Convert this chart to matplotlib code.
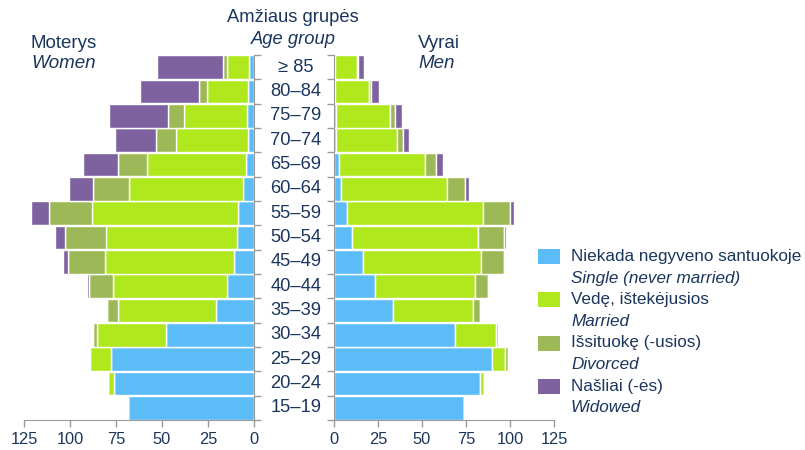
import matplotlib
matplotlib.use("Agg")
import matplotlib.pyplot as plt
from matplotlib.patches import Rectangle
import numpy as np

plt.rcParams['font.family'] = ['Liberation Sans', 'DejaVu Sans']

age_groups = ["15–19", "20–24", "25–29", "30–34", "35–39", "40–44", "45–49",
              "50–54", "55–59", "60–64", "65–69", "70–74", "75–79", "80–84", "≥ 85"]

women_single   = [68.3, 76.1, 77.7, 48.0, 20.5, 14.7, 11.1, 9.0, 8.6, 5.9, 4.5, 3.2, 3.6, 3.2, 2.7]
women_married  = [0.0, 3.2, 11.3, 37.3, 53.2, 61.9, 69.8, 71.6, 79.4, 62.3, 53.4, 39.4, 34.7, 22.2, 12.2]
women_divorced = [0.0, 0.0, 0.6, 2.3, 6.3, 13.0, 20.4, 21.9, 23.5, 19.4, 16.2, 10.8, 8.6, 4.4, 1.8]
women_widowed  = [0.0, 0.0, 0.0, 0.0, 0.0, 1.4, 2.3, 5.4, 9.7, 13.1, 18.7, 22.3, 31.9, 32.4, 36.0]

men_single   = [73.8, 83.1, 89.9, 68.9, 33.6, 23.2, 16.5, 10.5, 7.4, 4.2, 2.7, 1.1, 1.1, 0.5, 0.3]
men_married  = [0.0, 1.9, 7.4, 23.1, 45.2, 56.9, 66.8, 71.3, 77.4, 59.9, 48.9, 34.6, 30.6, 19.4, 12.8]
men_divorced = [0.0, 0.0, 1.4, 1.3, 3.9, 7.4, 13.3, 14.6, 15.4, 10.1, 6.5, 3.4, 2.7, 1.4, 0.5]
men_widowed  = [0.0, 0.0, 0.0, 0.0, 0.0, 0.0, 0.4, 1.5, 2.3, 2.6, 3.6, 3.6, 4.3, 4.1, 3.4]

x_ticks = [0, 25, 50, 75, 100, 125]

legend_lt = ["Niekada negyveno santuokoje", "Vedę, ištekėjusios", "Išsituokę (-usios)", "Našliai (-ės)"]
legend_en = ["Single (never married)", "Married", "Divorced", "Widowed"]

colors = ["#5BBCF8", "#B0E81E", "#9DB957", "#7E62A0"]
navy = "#1B365D"
spine_c = "#9A9A9A"

W, H = 805, 450
fig = plt.figure(figsize=(W / 100, H / 100), dpi=100)

def fx(px):
    return px / W

def fy(py):
    return 1 - py / H

top, bot = 55, 420
axL = fig.add_axes([fx(24), fy(bot), fx(254) - fx(24), fy(top) - fy(bot)])
axR = fig.add_axes([fx(334), fy(bot), fx(554) - fx(334), fy(top) - fy(bot)])

y = np.arange(len(age_groups))
bar_h = 0.96

def stack(ax, series):
    left = np.zeros(len(age_groups))
    for vals, c in zip(series, colors):
        vals = np.array(vals)
        ax.barh(y, vals, left=left, height=bar_h, color=c, edgecolor="white", linewidth=1.0)
        left += vals

stack(axL, [women_single, women_married, women_divorced, women_widowed])
stack(axR, [men_single, men_married, men_divorced, men_widowed])

for ax in (axL, axR):
    ax.set_ylim(-0.5, len(age_groups) - 0.5)
    ax.set_xlim(0, 125)
    ax.set_xticks(x_ticks)
    ax.set_xticklabels([str(t) for t in x_ticks])
    ax.set_yticks(np.arange(-0.5, len(age_groups), 1.0))
    ax.set_yticklabels([])
    ax.spines["top"].set_visible(False)
    ax.spines["bottom"].set_color(spine_c)
    ax.tick_params(axis="x", colors=spine_c, labelcolor=navy, labelsize=11.8, length=5, width=1, pad=4)
    ax.tick_params(axis="y", colors=spine_c, length=5, width=1)

axL.invert_xaxis()
axL.spines["left"].set_visible(False)
axL.spines["right"].set_color(spine_c)
axL.yaxis.tick_right()
axR.spines["right"].set_visible(False)
axR.spines["left"].set_color(spine_c)
axR.yaxis.tick_left()

# age labels in the middle
for i, lab in enumerate(age_groups):
    ypix = bot - (i + 0.5) * (bot - top) / len(age_groups)
    fig.text(fx(296), fy(ypix), lab, ha="center", va="center", fontsize=13.2, color=navy)

# headers
fig.text(fx(293), fy(18), "Amžiaus grupės", ha="center", va="center", fontsize=13.2, color=navy)
fig.text(fx(293), fy(39), "Age group", ha="center", va="center", fontsize=13.2, color=navy, style="italic")
fig.text(fx(31), fy(43), "Moterys", ha="left", va="center", fontsize=13.5, color=navy)
fig.text(fx(31), fy(63), "Women", ha="left", va="center", fontsize=13.5, color=navy, style="italic")
fig.text(fx(418), fy(43), "Vyrai", ha="left", va="center", fontsize=13.5, color=navy)
fig.text(fx(418), fy(63), "Men", ha="left", va="center", fontsize=13.5, color=navy, style="italic")

# legend
leg_y = [256.5, 299.5, 343, 386.5]
for yy, c, lt, en in zip(leg_y, colors, legend_lt, legend_en):
    fig.patches.append(Rectangle((fx(538), fy(yy + 7.5)), fx(560) - fx(538), 15 / H,
                                 transform=fig.transFigure, facecolor=c, edgecolor="none"))
    fig.text(fx(571), fy(yy), lt, ha="left", va="center", fontsize=12.3, color=navy)
    fig.text(fx(571), fy(yy + 21.5), en, ha="left", va="center", fontsize=12.3, color=navy, style="italic")

fig.savefig("out.png", dpi=100)
